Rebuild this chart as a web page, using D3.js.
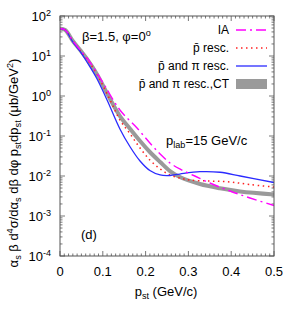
<!DOCTYPE html>
<html>
<head>
<meta charset="utf-8">
<script src="https://cdn.jsdelivr.net/npm/d3@7"></script>
<style>
  body { margin: 0; background: #fff; }
  text { font-family: "Liberation Sans", Arial, sans-serif; fill: #000; }
</style>
</head>
<body>
<svg id="chart"></svg>
<script>
// p_st (GeV/c) and cross section values
const pIA    = [0, 0.012, 0.030, 0.047, 0.063, 0.082, 0.105, 0.140, 0.180, 0.210, 0.234, 0.257, 0.280, 0.315, 0.350, 0.397, 0.444, 0.500];
const vIA    = [48.7, 44.7, 23.7, 14.1, 8.9, 4.47, 1.78, 0.447, 0.158, 0.0668, 0.0355, 0.0211, 0.015, 0.010, 0.00668, 0.00422, 0.00282, 0.00183];

const pPbar  = [0, 0.012, 0.030, 0.047, 0.063, 0.086, 0.117, 0.140, 0.164, 0.187, 0.210, 0.234, 0.257, 0.280, 0.304, 0.350, 0.397, 0.444, 0.500];
const vPbar  = [48.7, 44.7, 23.7, 13.7, 8.4, 3.55, 0.794, 0.251, 0.112, 0.0501, 0.0251, 0.015, 0.0106, 0.0089, 0.0079, 0.0075, 0.0071, 0.0061, 0.0053];

const pPi    = [0, 0.012, 0.030, 0.047, 0.063, 0.086, 0.110, 0.140, 0.164, 0.187, 0.210, 0.234, 0.257, 0.280, 0.327, 0.374, 0.421, 0.500];
const vPi    = [48.7, 44.7, 22.4, 12.96, 7.08, 2.74, 0.794, 0.150, 0.0531, 0.0237, 0.0137, 0.0106, 0.0103, 0.0112, 0.0128, 0.0124, 0.0100, 0.00688];

const pCT    = [0, 0.012, 0.030, 0.047, 0.063, 0.086, 0.117, 0.140, 0.164, 0.187, 0.210, 0.234, 0.257, 0.280, 0.327, 0.374, 0.421, 0.500];
const vCT    = [48.7, 44.7, 23.7, 14.1, 8.41, 3.55, 0.841, 0.316, 0.150, 0.075, 0.0398, 0.0224, 0.0133, 0.00944, 0.00631, 0.00493, 0.0041, 0.00345];

const xTicks = [0, 0.1, 0.2, 0.3, 0.4, 0.5];
const xTickLabels = ["0", "0.1", "0.2", "0.3", "0.4", "0.5"];
const yExponents = [2, 1, 0, -1, -2, -3, -4];

const legendNames = ["IA", "p\u0304 resc.", "p\u0304 and \u03c0 resc.", "p\u0304 and \u03c0 resc.,CT"];

const W = 300, H = 315;
const svg = d3.select("#chart").attr("width", W).attr("height", H);

const x = d3.scaleLinear().domain([0, 0.5]).range([60, 274]);
const y = d3.scaleLog().domain([1e-4, 1e2]).range([256, 16]);

// rich text helper for sub/superscripts
function rich(sel, parts, size) {
    let shift = 0;
    parts.forEach(([t, kind]) => {
        let target = kind === "sub" ? 3 : kind === "sup" ? -5 : 0;
        sel.append("tspan")
            .attr("dy", target - shift)
            .attr("font-size", kind ? size * 0.7 : size)
            .text(t);
        shift = target;
    });
}

// minor/major ticks
const axisCol = "#555";
const ticksG = svg.append("g").attr("stroke", axisCol).attr("stroke-width", 0.8);
d3.range(0, 0.5001, 0.01).forEach((v, i) => {
    const len = (i % 10 === 0) ? 5 : 2.5;
    ticksG.append("line").attr("x1", x(v)).attr("x2", x(v)).attr("y1", 256).attr("y2", 256 - len);
    ticksG.append("line").attr("x1", x(v)).attr("x2", x(v)).attr("y1", 16).attr("y2", 16 + len);
});
yExponents.forEach(e => {
    const base = Math.pow(10, e);
    ticksG.append("line").attr("x1", 60).attr("x2", 65).attr("y1", y(base)).attr("y2", y(base));
    ticksG.append("line").attr("x1", 274).attr("x2", 269).attr("y1", y(base)).attr("y2", y(base));
    if (e < 2) {
        for (let m = 2; m <= 9; m++) {
            const v = base * m;
            ticksG.append("line").attr("x1", 60).attr("x2", 62.5).attr("y1", y(v)).attr("y2", y(v));
            ticksG.append("line").attr("x1", 274).attr("x2", 271.5).attr("y1", y(v)).attr("y2", y(v));
        }
    }
});

// curves
const line = d3.line().x(d => x(d[0])).y(d => y(d[1])).curve(d3.curveCatmullRom.alpha(0.5));
const zip = (a, b) => a.map((p, i) => [p, b[i]]);

svg.append("clipPath").attr("id", "clip")
    .append("rect").attr("x", 60).attr("y", 16).attr("width", 214).attr("height", 240);
const curves = svg.append("g").attr("clip-path", "url(#clip)");

curves.append("path").attr("d", line(zip(pCT, vCT)))
    .attr("fill", "none").attr("stroke", "#9a9a9a").attr("stroke-width", 4);
curves.append("path").attr("d", line(zip(pPbar, vPbar)))
    .attr("fill", "none").attr("stroke", "#ff2020").attr("stroke-width", 1.5)
    .attr("stroke-dasharray", "1.5,3.5");
curves.append("path").attr("d", line(zip(pPi, vPi)))
    .attr("fill", "none").attr("stroke", "#2a2aff").attr("stroke-width", 1.3);
curves.append("path").attr("d", line(zip(pIA, vIA)))
    .attr("fill", "none").attr("stroke", "#ff00ff").attr("stroke-width", 1.4)
    .attr("stroke-dasharray", "10,4,2,4");

// frame
svg.append("rect").attr("x", 60).attr("y", 16).attr("width", 214).attr("height", 240)
    .attr("fill", "none").attr("stroke", axisCol).attr("stroke-width", 1);

// x tick labels
xTicks.forEach((v, i) => {
    svg.append("text").attr("x", x(v)).attr("y", 276).attr("text-anchor", "middle")
        .attr("font-size", 13).text(xTickLabels[i]);
});

// y tick labels
yExponents.forEach(e => {
    const t = svg.append("text").attr("x", 51).attr("y", y(Math.pow(10, e)) + 5)
        .attr("text-anchor", "end").attr("font-size", 13);
    rich(t, [["10", ""], [e < 0 ? "-" + (-e) : String(e), "sup"]], 13);
});

// axis titles
const xt = svg.append("text").attr("x", 166).attr("y", 296).attr("text-anchor", "middle");
rich(xt, [["p", ""], ["st", "sub"], [" (GeV/c)", ""]], 13);

const yt = svg.append("text").attr("transform", "translate(18,163) rotate(-90)")
    .attr("text-anchor", "middle");
rich(yt, [["\u03b1", ""], ["s", "sub"], [" \u03b2 d", ""], ["4", "sup"], ["\u03c3/d\u03b1", ""], ["s", "sub"],
          [" d\u03b2 d\u03c6 p", ""], ["st", "sub"], ["dp", ""], ["st", "sub"], [" (\u03bcb/GeV", ""], ["2", "sup"], [")", ""]], 13);

// annotations
const beta = svg.append("text").attr("x", 82).attr("y", 41);
rich(beta, [["\u03b2=1.5, \u03c6=0", ""], ["o", "sup"]], 13);

const plab = svg.append("text").attr("x", 166).attr("y", 145);
rich(plab, [["p", ""], ["lab", "sub"], ["=15 GeV/c", ""]], 13);

svg.append("text").attr("x", 81).attr("y", 239).attr("font-size", 13).text("(d)");

// legend
const rows = [30, 48, 66, 84];
legendNames.forEach((name, i) => {
    svg.append("text").attr("x", 229).attr("y", rows[i] + 4).attr("text-anchor", "end")
        .attr("font-size", 12).text(name);
});
svg.append("line").attr("x1", 236).attr("x2", 267).attr("y1", rows[0]).attr("y2", rows[0])
    .attr("stroke", "#ff00ff").attr("stroke-width", 1.4).attr("stroke-dasharray", "10,4,2,4");
svg.append("line").attr("x1", 236).attr("x2", 267).attr("y1", rows[1]).attr("y2", rows[1])
    .attr("stroke", "#ff2020").attr("stroke-width", 1.5).attr("stroke-dasharray", "1.5,3.5");
svg.append("line").attr("x1", 236).attr("x2", 267).attr("y1", rows[2]).attr("y2", rows[2])
    .attr("stroke", "#2a2aff").attr("stroke-width", 1.3);
svg.append("rect").attr("x", 236).attr("y", rows[3] - 5).attr("width", 31).attr("height", 10)
    .attr("fill", "#9a9a9a");
</script>
</body>
</html>
